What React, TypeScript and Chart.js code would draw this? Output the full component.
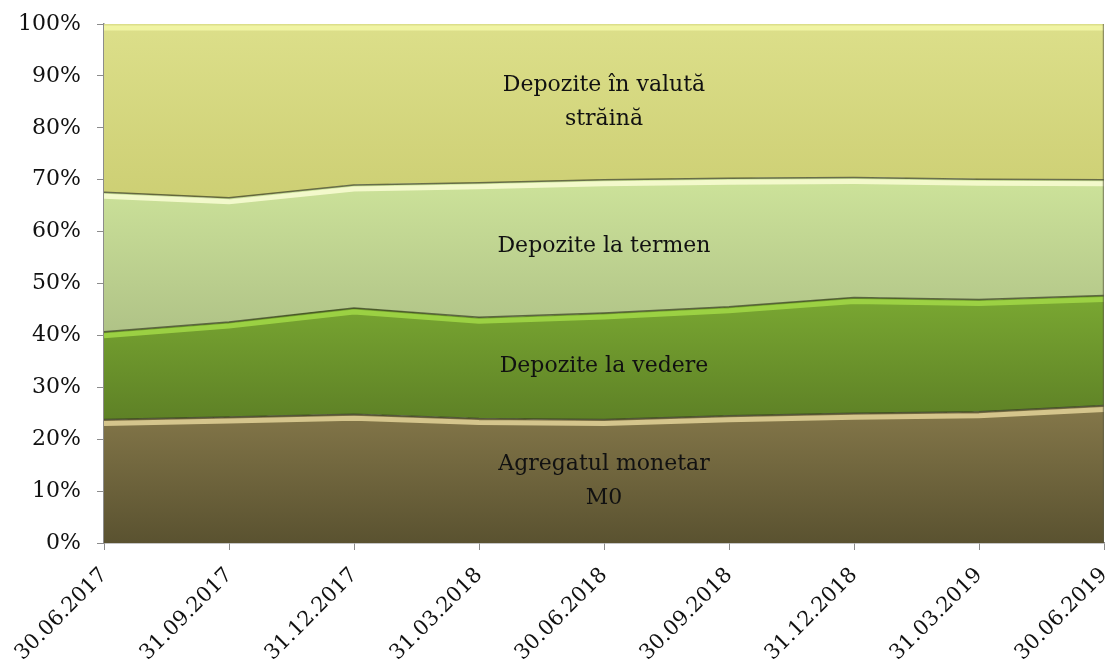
import { useEffect, useRef } from "react";
import { Chart, registerables } from "chart.js";

Chart.register(...registerables);

// ---- data (percent shares of M3 components) ----
const categories = [
  "30.06.2017",
  "31.09.2017",
  "31.12.2017",
  "31.03.2018",
  "30.06.2018",
  "30.09.2018",
  "31.12.2018",
  "31.03.2019",
  "30.06.2019",
];
const seriesNames = [
  "Agregatul monetar M0",
  "Depozite la vedere",
  "Depozite la termen",
  "Depozite în valută străină",
];
const m0 = [23.8, 24.3, 24.8, 24.0, 23.8, 24.5, 25.0, 25.3, 26.5];
const vedere = [16.9, 18.3, 20.5, 19.5, 20.5, 21.0, 22.3, 21.6, 21.2];
const termen = [26.9, 23.9, 23.7, 25.9, 25.7, 24.8, 23.1, 23.2, 22.3];
const valuta = [32.4, 33.5, 31.0, 30.6, 30.0, 29.7, 29.6, 29.9, 30.0];
const yTicks = [0, 10, 20, 30, 40, 50, 60, 70, 80, 90, 100];
const areaLabels = [
  ["Agregatul monetar", "M0"],
  ["Depozite la vedere"],
  ["Depozite la termen"],
  ["Depozite în valută", "străină"],
];

// ---- styles ----
const FONT = "'DejaVu Serif', 'Liberation Serif', serif";
const bandColors = [
  ["#85784a", "#5a5230"],
  ["#7aa832", "#5e8126"],
  ["#cde39a", "#b0c387"],
  ["#dcdf8a", "#cdcf74"],
];
const bevelColors = [
  "rgba(222,206,148,0.9)",
  "rgba(160,214,70,0.9)",
  "rgba(244,250,205,0.95)",
  "rgba(242,246,165,0.9)",
];
const edgeColor = "rgba(55,60,35,0.7)";

const seriesData = [m0, vedere, termen, valuta];

function cumulative(upTo: number): number[] {
  return categories.map((_, j) => {
    let s = 0;
    for (let k = 0; k <= upTo; k++) s += seriesData[k][j];
    return s;
  });
}

const bevelPlugin = {
  id: "bevel",
  afterDatasetsDraw(chart: any) {
    const { ctx, chartArea } = chart;
    ctx.save();
    ctx.beginPath();
    ctx.rect(chartArea.left, chartArea.top - 2, chartArea.right - chartArea.left, chartArea.bottom - chartArea.top + 2);
    ctx.clip();
    chart.data.datasets.forEach((_: any, i: number) => {
      const meta = chart.getDatasetMeta(i);
      const pts = meta.data;
      if (!pts || !pts.length) return;
      ctx.beginPath();
      pts.forEach((p: any, k: number) => {
        if (k === 0) ctx.moveTo(p.x, p.y + 4);
        else ctx.lineTo(p.x, p.y + 4);
      });
      ctx.strokeStyle = bevelColors[i];
      ctx.lineWidth = 5;
      ctx.lineJoin = "round";
      ctx.stroke();
      if (i < chart.data.datasets.length - 1) {
        ctx.beginPath();
        pts.forEach((p: any, k: number) => {
          if (k === 0) ctx.moveTo(p.x, p.y);
          else ctx.lineTo(p.x, p.y);
        });
        ctx.strokeStyle = edgeColor;
        ctx.lineWidth = 1.5;
        ctx.stroke();
      }
    });
    ctx.beginPath();
    ctx.moveTo(chartArea.right - 0.5, chartArea.top);
    ctx.lineTo(chartArea.right - 0.5, chartArea.bottom);
    ctx.strokeStyle = "rgba(90,90,70,0.6)";
    ctx.lineWidth = 1.5;
    ctx.stroke();
    ctx.restore();
  },
};

const labelPlugin = {
  id: "areaLabels",
  afterDatasetsDraw(chart: any) {
    const { ctx } = chart;
    const xs = chart.scales.x;
    const ys = chart.scales.y;
    const mid = Math.floor(categories.length / 2);
    ctx.save();
    ctx.font = `22px ${FONT}`;
    ctx.fillStyle = "#111";
    ctx.textAlign = "center";
    ctx.textBaseline = "middle";
    const lineH = 34;
    areaLabels.forEach((lines, i) => {
      const lower = i === 0 ? 0 : cumulative(i - 1)[mid];
      const upper = cumulative(i)[mid];
      const cy = ys.getPixelForValue((lower + upper) / 2);
      const x = xs.getPixelForValue(mid);
      lines.forEach((t, k) => {
        const y = cy + (k - (lines.length - 1) / 2) * lineH;
        ctx.fillText(t, x, y);
      });
    });
    ctx.restore();
  },
};

export default function App() {
  const ref = useRef<HTMLCanvasElement | null>(null);

  useEffect(() => {
    if (!ref.current) return;
    const datasets = seriesData.map((d, i) => ({
      label: seriesNames[i],
      data: d,
      fill: i === 0 ? "origin" : "-1",
      borderWidth: 0,
      borderColor: "rgba(0,0,0,0)",
      pointRadius: 0,
      tension: 0.15,
      backgroundColor: (c: any) => {
        const chart = c.chart;
        const ys = chart.scales && chart.scales.y;
        if (!chart.chartArea || !ys) return bandColors[i][0];
        const top = Math.max(...cumulative(i));
        const low = i === 0 ? 0 : Math.min(...cumulative(i - 1));
        const g = chart.ctx.createLinearGradient(0, ys.getPixelForValue(top), 0, ys.getPixelForValue(low));
        g.addColorStop(0, bandColors[i][0]);
        g.addColorStop(1, bandColors[i][1]);
        return g;
      },
    }));

    const chart = new Chart(ref.current, {
      type: "line",
      data: { labels: categories, datasets: datasets as any },
      options: {
        animation: false,
        responsive: false,
        maintainAspectRatio: false,
        layout: { padding: { left: 8, right: 4, top: 24, bottom: 0 } },
        plugins: {
          legend: { display: false },
          tooltip: { enabled: false },
        },
        scales: {
          x: {
            offset: false,
            grid: {
              drawOnChartArea: false,
              drawTicks: true,
              tickLength: 7,
              color: "#8c8c8c",
            },
            border: { color: "#8c8c8c", width: 1.5 },
            ticks: {
              autoSkip: false,
              minRotation: 45,
              maxRotation: 45,
              padding: 13,
              color: "#111",
              font: { family: FONT, size: 21 },
            },
            afterFit: (s: any) => {
              s.height = 125;
              s.paddingLeft = 0;
              s.paddingRight = 0;
            },
          },
          y: {
            stacked: true,
            min: 0,
            max: 100,
            afterBuildTicks: (s: any) => {
              s.ticks = yTicks.map((v) => ({ value: v }));
            },
            grid: {
              drawOnChartArea: false,
              drawTicks: true,
              tickLength: 7,
              color: "#8c8c8c",
            },
            border: { color: "#8c8c8c", width: 1.5 },
            ticks: {
              padding: 16,
              color: "#111",
              font: { family: FONT, size: 22 },
              callback: (v: any) => `${v}%`,
            },
            afterFit: (s: any) => {
              s.width = 96;
              s.paddingTop = 0;
              s.paddingBottom = 0;
            },
          },
        },
      },
      plugins: [bevelPlugin, labelPlugin],
    });
    return () => chart.destroy();
  }, []);

  return (
    <div style={{ position: "fixed", left: 0, top: 0, width: 1108, height: 668, background: "#fff" }}>
      <canvas ref={ref} width={1108} height={668} style={{ width: 1108, height: 668 }} />
    </div>
  );
}
